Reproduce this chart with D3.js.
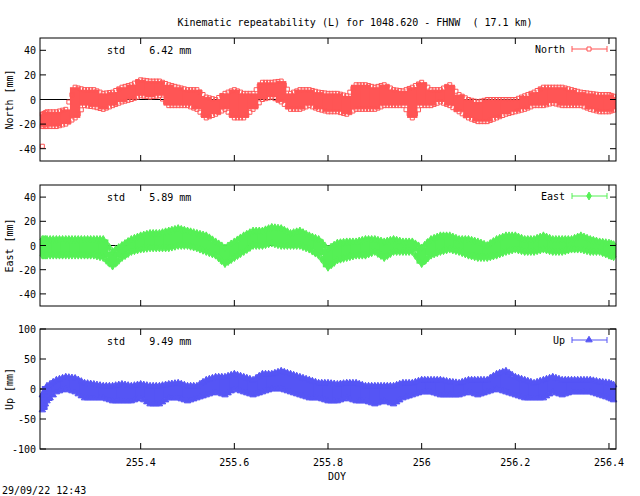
<!DOCTYPE html><html><head><meta charset="utf-8">
<script src="https://cdn.jsdelivr.net/npm/d3@7"></script>
<style>body{margin:0;background:#fff}text{font-family:"DejaVu Sans Mono",monospace;font-size:10px}</style></head><body>
<svg id="c" width="640" height="496"></svg>
<script>
const doy=[255.19,255.20,255.22,255.24,255.26,255.28,255.30,255.32,255.34,255.36,255.38,255.40,255.42,255.44,255.46,255.48,255.50,255.52,255.54,255.56,255.58,255.60,255.62,255.64,255.66,255.68,255.70,255.72,255.74,255.76,255.78,255.80,255.82,255.84,255.86,255.88,255.90,255.92,255.94,255.96,255.98,256.00,256.02,256.04,256.06,256.08,256.10,256.12,256.14,256.16,256.18,256.20,256.22,256.24,256.26,256.28,256.30,256.32,256.34,256.36,256.38,256.40,256.415];
const northHi=[-12,-10,-10,-8,10,8,8,5,6,10,12,16,15,15,12,10,8,8,2,0,5,8,5,5,14,14,15,5,8,8,6,5,5,3,12,12,10,12,8,7,10,14,8,8,12,4,0,-2,0,0,0,0,3,6,10,10,10,8,6,5,4,4,2];
const northLo=[-22,-22,-22,-20,-15,-5,-6,-8,-5,-2,0,3,2,3,-5,-5,-5,-8,-15,-12,-8,-15,-15,-8,0,2,-2,-8,-8,-5,-8,-10,-10,-12,-8,-8,-8,-5,-5,-5,-15,-5,-5,-2,-5,-10,-15,-18,-18,-15,-12,-10,-8,-5,-5,-3,-5,-5,-5,-8,-10,-10,-8];
const eastHi=[5,5,5,5,5,5,5,5,-5,0,5,8,10,10,12,14,12,10,8,3,-2,3,8,12,12,15,14,10,12,8,5,-3,2,3,3,5,5,3,5,3,3,-2,5,8,8,5,5,3,0,5,8,8,5,5,8,5,5,5,8,5,3,2,0];
const eastLo=[-8,-8,-8,-8,-8,-8,-8,-10,-17,-10,-5,-3,-2,-2,-2,0,0,-2,-5,-8,-15,-10,-5,0,0,2,0,0,0,-3,-8,-18,-12,-10,-8,-8,-5,-10,-5,-5,-5,-15,-8,-5,-3,-5,-8,-10,-10,-8,-5,-3,-5,-5,-3,-5,-5,-3,-3,-5,-5,-8,-10];
const upHi=[-10,5,15,20,18,10,8,5,5,8,5,8,5,5,8,10,5,5,15,20,20,25,20,15,25,25,30,25,20,15,10,10,8,10,10,5,5,5,5,10,10,15,15,15,12,10,15,15,15,25,30,20,15,10,15,20,15,15,15,15,12,10,5];
const upLo=[-35,-20,-5,0,-5,-15,-15,-15,-20,-20,-20,-15,-25,-25,-15,-15,-20,-15,-10,-5,-10,0,-5,-10,-5,0,0,-5,-10,-15,-15,-20,-20,-15,-20,-20,-25,-20,-25,-15,-10,-5,-5,-10,-10,-10,-5,-10,-5,0,-5,-10,-15,-15,-15,-5,-10,-5,-5,-5,-10,-15,-20];
const northTicks=[-40,-20,0,20,40], eastTicks=[-40,-20,0,20,40], upTicks=[-100,-50,0,50,100];
const xTicks=[255.4,255.6,255.8,256,256.2,256.4];
const outlier={doy:255.19,v:-38};

const svg=d3.select("#c");
const x=d3.scaleLinear().domain([255.185,256.415]).range([40,616]);
svg.append("text").attr("x",355).attr("y",26).attr("text-anchor","middle").text("Kinematic repeatability (L) for 1048.620 - FHNW  ( 17.1 km)").attr("xml:space","preserve");
const panels=[
 {name:"North",lab:"North [mm]",std:"6.42",hi:northHi,lo:northLo,ticks:northTicks,dom:[-50,50],top:38,bot:161,col:"#ff5555",sym:d3.symbolSquare,fill:false},
 {name:"East",lab:"East [mm]",std:"5.89",hi:eastHi,lo:eastLo,ticks:eastTicks,dom:[-50,50],top:185,bot:306,col:"#55f055",sym:d3.symbolDiamond,fill:true},
 {name:"Up",lab:"Up [mm]",std:"9.49",hi:upHi,lo:upLo,ticks:upTicks,dom:[-100,100],top:329,bot:449,col:"#5555f5",sym:d3.symbolTriangle,fill:true}];
panels.forEach((p,pi)=>{
 const y=d3.scaleLinear().domain(p.dom).range([p.bot,p.top]);
 const g=svg.append("g");
 g.append("line").attr("x1",40).attr("x2",616).attr("y1",y(0)).attr("y2",y(0)).attr("stroke","#000");
 const sym=d3.symbol().type(p.sym).size(p.sym===d3.symbolSquare?16:18);
 const step=x(255.22)-x(255.20);
 p.hi.forEach((h,i)=>{
   const xc=x(doy[i]);
   const a=Math.max(40,xc-step/2-0.5), b=Math.min(616,xc+step/2+0.5);
   g.append("rect").attr("x",a).attr("width",b-a).attr("y",y(h)).attr("height",Math.max(1,y(p.lo[i])-y(h))).attr("fill",p.col);
 });
 const hiF=d3.scaleLinear().domain(doy).range(p.hi), loF=d3.scaleLinear().domain(doy).range(p.lo);
 for(let i=0;i<doy.length-1;i++){
   [0,0.33,0.66].forEach(f=>{
     const d=doy[i]+f*(doy[i+1]-doy[i]);
     [hiF(d),loF(d)].forEach(v=>{
       g.append("path").attr("d",sym).attr("transform",`translate(${x(d)},${y(v)})`)
        .attr("fill",p.fill?p.col:"none").attr("stroke",p.col);
     });
   });
 }
 if(pi===0) g.append("path").attr("d",sym).attr("transform",`translate(${x(outlier.doy)},${y(outlier.v)})`).attr("fill","none").attr("stroke",p.col);
 g.append("rect").attr("x",40).attr("y",p.top).attr("width",576).attr("height",p.bot-p.top).attr("fill","none").attr("stroke","#000");
 p.ticks.forEach(t=>{
   g.append("line").attr("x1",40).attr("x2",46).attr("y1",y(t)).attr("y2",y(t)).attr("stroke","#000");
   g.append("line").attr("x1",610).attr("x2",616).attr("y1",y(t)).attr("y2",y(t)).attr("stroke","#000");
   g.append("text").attr("x",36).attr("y",y(t)+4).attr("text-anchor","end").text(t);
 });
 xTicks.forEach(t=>{
   g.append("line").attr("x1",x(t)).attr("x2",x(t)).attr("y1",p.bot).attr("y2",p.bot-6).attr("stroke","#000");
   g.append("line").attr("x1",x(t)).attr("x2",x(t)).attr("y1",p.top).attr("y2",p.top+6).attr("stroke","#000");
   if(pi===2) g.append("text").attr("x",x(t)).attr("y",p.bot+17).attr("text-anchor","middle").text(t);
 });
 const ym=(p.top+p.bot)/2;
 g.append("text").attr("transform",`translate(13,${ym}) rotate(-90)`).attr("text-anchor","middle").text(p.lab);
 g.append("text").attr("x",107).attr("y",p.top+16).attr("xml:space","preserve").text("std    "+p.std+" mm");
 g.append("text").attr("x",565).attr("y",p.top+15).attr("text-anchor","end").text(p.name);
 const ly=p.top+11;
 g.append("line").attr("x1",572).attr("x2",607).attr("y1",ly).attr("y2",ly).attr("stroke",p.col);
 [572,607].forEach(xx=>g.append("line").attr("x1",xx).attr("x2",xx).attr("y1",ly-3).attr("y2",ly+3).attr("stroke",p.col));
 g.append("path").attr("d",sym).attr("transform",`translate(589,${ly})`).attr("fill",p.fill?p.col:"#fff").attr("stroke",p.col);
});
svg.append("text").attr("x",337).attr("y",480).attr("text-anchor","middle").text("DOY");
svg.append("text").attr("x",2).attr("y",494).text("29/09/22 12:43");
</script></body></html>
